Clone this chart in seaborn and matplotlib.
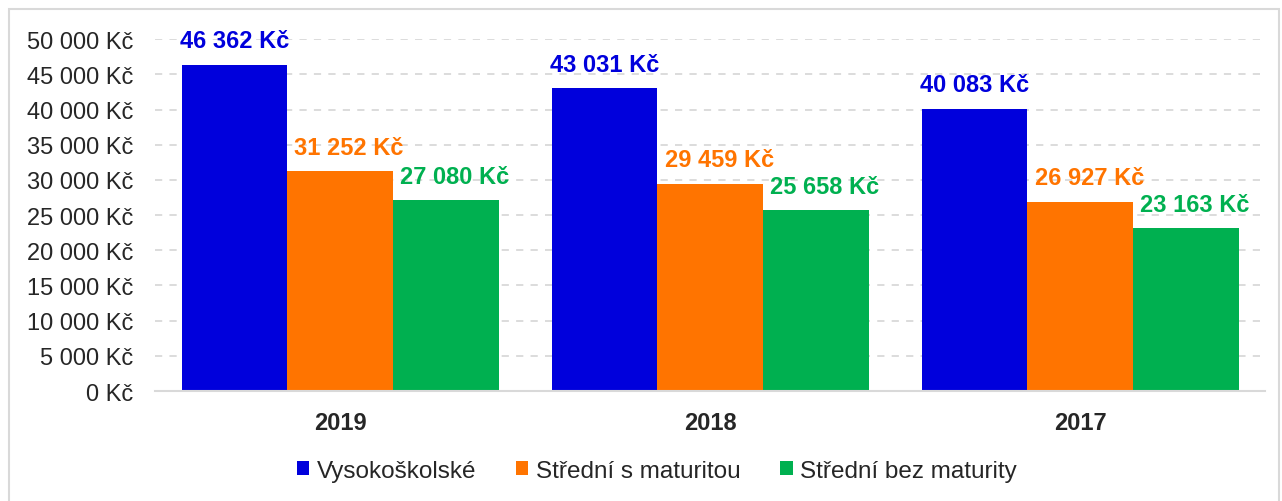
import matplotlib
matplotlib.use("Agg")
import matplotlib.pyplot as plt
import pandas as pd
import seaborn as sns
from matplotlib.patches import Rectangle
from matplotlib.ticker import FuncFormatter

# Data
years = ["2019", "2018", "2017"]
education = ["Vysokoškolské", "Střední s maturitou", "Střední bez maturity"]
vysokoskolske = [46362, 43031, 40083]
stredni_s_mat = [31252, 29459, 26927]
stredni_bez_mat = [27080, 25658, 23163]
colors = ["#0000DC", "#FF7400", "#00B050"]

df = pd.DataFrame({
    "rok": years * 3,
    "vzdelani": [education[0]] * 3 + [education[1]] * 3 + [education[2]] * 3,
    "mzda": vysokoskolske + stredni_s_mat + stredni_bez_mat,
})


def kc(v, pos=None):
    return "{:,.0f} Kč".format(v).replace(",", " ")


sns.set_style("white")
plt.rcParams["font.family"] = ["Liberation Sans", "DejaVu Sans"]

fig = plt.figure(figsize=(12.82, 5.02), dpi=100)
ax = fig.add_axes([0.121, 0.219, 0.866, 0.701])

sns.barplot(data=df, x="rok", y="mzda", hue="vzdelani", order=years,
            hue_order=education, palette=colors, width=0.857,
            saturation=1, ax=ax, edgecolor="none")

# labels of the 2nd and 3rd series sit a bit to the right in the original
shifts = [0, 6.5, 6]
for cont, col, dx in zip(ax.containers, colors, shifts):
    for bar in cont:
        h = bar.get_height()
        ax.annotate(kc(h), (bar.get_x() + bar.get_width() / 2, h),
                    xytext=(dx, 9), textcoords="offset points",
                    ha="center", va="bottom", fontsize=17,
                    fontweight="bold", color=col)

ax.set_ylim(0, 50000)
ax.set_xlim(-0.5, 2.5)
ax.set_yticks(range(0, 50001, 5000))
ax.yaxis.set_major_formatter(FuncFormatter(kc))
ax.grid(axis="y", color="#D9D9D9", linestyle=(0, (4, 4)), linewidth=1.3)
ax.set_axisbelow(True)
for s in ["left", "right", "top"]:
    ax.spines[s].set_visible(False)
ax.spines["bottom"].set_color("#D9D9D9")
ax.spines["bottom"].set_linewidth(1.5)
ax.tick_params(axis="y", length=0, labelsize=17, pad=16)
ax.tick_params(axis="x", length=0, labelsize=17, pad=14)
for t in ax.get_xticklabels():
    t.set_fontweight("bold")
ax.set_xlabel("")
ax.set_ylabel("")

leg = ax.legend(loc="center", bbox_to_anchor=(0.452, -0.227), ncol=3,
                frameon=False, fontsize=17.5, handlelength=0.5,
                handleheight=0.5, handletextpad=0.3, columnspacing=1.65)

fig.patches.append(Rectangle((9 / 1282, -0.01), 1270 / 1282, 1 - 10 / 502 + 0.01,
                             transform=fig.transFigure, fill=False,
                             edgecolor="#D9D9D9", linewidth=1.5))

fig.savefig("out.png", dpi=100)
